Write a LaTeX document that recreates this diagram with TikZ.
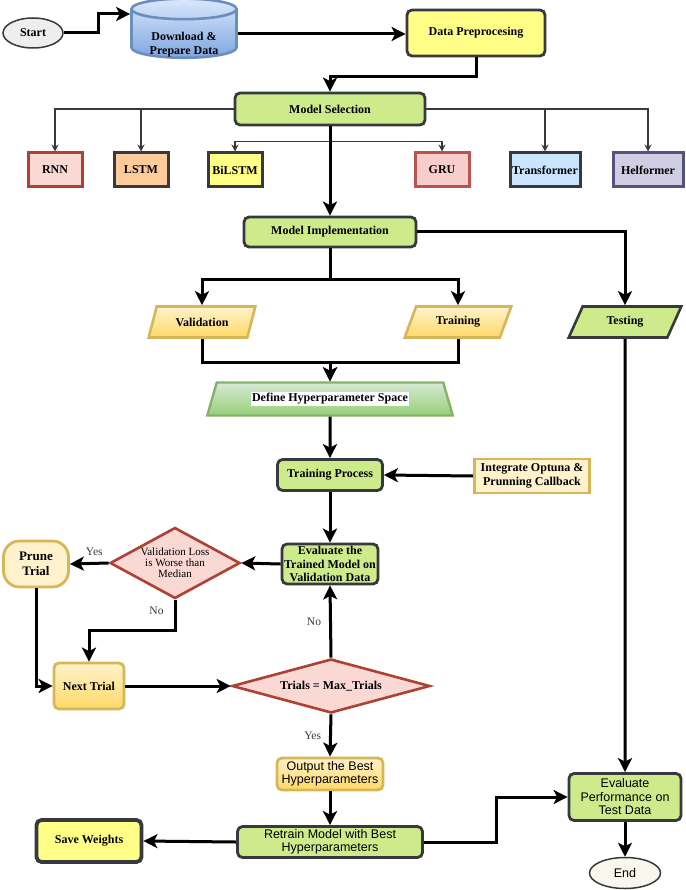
\documentclass[tikz,border=0pt]{standalone}
\usepackage{fontspec}
\setmainfont{Liberation Serif}
\setsansfont{Liberation Sans}
\usetikzlibrary{arrows.meta,shapes.geometric}
\definecolor{dark}{HTML}{36393D}
\definecolor{lgreen}{HTML}{CDEB8B}
\definecolor{yell}{HTML}{FFFF88}
\definecolor{rnnf}{HTML}{FAD9D5}
\definecolor{redb}{HTML}{AE4132}
\definecolor{orng}{HTML}{FFCC99}
\definecolor{gruf}{HTML}{F8CECC}
\definecolor{grub}{HTML}{B85450}
\definecolor{bluef}{HTML}{CCE5FF}
\definecolor{purf}{HTML}{D0CEE2}
\definecolor{purb}{HTML}{56517E}
\definecolor{gold1}{HTML}{FFF2CC}
\definecolor{gold2}{HTML}{FFD966}
\definecolor{goldb}{HTML}{D6B656}
\definecolor{green1}{HTML}{D5E8D4}
\definecolor{green2}{HTML}{97D077}
\definecolor{greenb}{HTML}{82B366}
\definecolor{blue1}{HTML}{DAE8FC}
\definecolor{blue2}{HTML}{7EA6E0}
\definecolor{blueb}{HTML}{6C8EBF}
\definecolor{startf}{HTML}{EEEEEE}
\definecolor{endf}{HTML}{F9F7ED}
\setlength{\fboxsep}{1pt}
\begin{document}
\begin{tikzpicture}[x=1pt,y=-1pt,
		every node/.style={align=center,inner sep=0pt,font=\fontsize{12}{13.5}\selectfont\bfseries},
		box/.style={draw=dark,line width=2.8pt,rounded corners=5pt,fill=lgreen},
		model/.style={draw,line width=3pt,minimum height=34pt},
		io/.style={trapezium,trapezium left angle=61,trapezium right angle=119,trapezium stretches=true,minimum height=31pt,line width=2.6pt},
		gold/.style={draw=goldb,top color=gold1,bottom color=gold2},
		dec/.style={diamond,draw=redb,fill=rnnf,line width=2.6pt},
		sans/.style={font=\sffamily\fontsize{12.5}{13.5}\selectfont},
		ans/.style={font=\fontsize{11.5}{13}\selectfont,text=dark},
		arr/.style={line width=3pt,-{Stealth[length=14pt,width=14pt,inset=3.5pt]}},
		branch/.style={line width=1.2pt,draw=dark,-{Stealth[length=7pt,width=7pt]}}]
	\useasboundingbox (0,0) rectangle (685,890);
	\node[ellipse,draw=dark,fill=startf,line width=1.5pt,minimum width=60pt,minimum height=30pt] (start) at (33,33) {Start};
	\node[cylinder,shape border rotate=90,aspect=0.3,draw=blueb,line width=2.6pt,top color=blue1,bottom color=blue2,minimum width=105pt,minimum height=58pt] (dl) at (184,34) {\raisebox{-11pt}[\height][\depth]{\begin{tabular}{@{}c@{}}Download \&\\Prepare Data\end{tabular}}};
	\node[box,fill=yell,minimum width=138pt,minimum height=46pt] (dp) at (476,33) {Data Preprocesing};
	\node[box,minimum width=190pt,minimum height=32pt] (ms) at (330,109) {Model Selection};
	\foreach \n/\t/\x/\w/\f/\d in {rnn/RNN/55/54pt/rnnf/redb, lstm/LSTM/141/54pt/orng/dark, bilstm/BiLSTM/235/54pt/yell/dark, gru/GRU/442/54pt/gruf/grub, trans/Transformer/545/70pt/bluef/dark, helf/Helformer/648/70pt/purf/purb}{
			\node[model,fill=\f,draw=\d,minimum width=\w] (\n) at (\x,170) {\t};
		}
	\draw[branch] (ms.west) -| (rnn.north);
	\draw[branch] (ms.west) -| (lstm.north);
	\draw[branch] (ms.east) -| (trans.north);
	\draw[branch] (ms.east) -| (helf.north);
	\draw[branch] (ms.south) -- ++(0,15) -| (bilstm.north);
	\draw[branch] (ms.south) -- ++(0,15) -| (gru.north);
	\node[box,minimum width=172pt,minimum height=30pt] (mi) at (330,232) {Model Implementation};
	\node[io,gold,minimum width=107pt] (val) at (202,322) {Validation};
	\node[io,gold,minimum width=107pt] (train) at (458,322) {Training};
	\node[io,draw=dark,fill=lgreen,minimum width=113pt] (test) at (625,322) {Testing};
	\node[trapezium,trapezium left angle=63,trapezium right angle=63,trapezium stretches=true,minimum width=246pt,minimum height=33pt,draw=greenb,line width=2.4pt,top color=green1,bottom color=green2] (def) at (330,399) {\colorbox{white}{Define Hyperparameter Space}};
	\node[box,minimum width=105pt,minimum height=31pt] (tp) at (330,475) {Training Process};
	\node[draw=goldb,fill=gold1,line width=2.8pt,minimum width=115pt,minimum height=34pt] (opt) at (532,476) {Integrate Optuna \&\\Prunning Callback};
	\node[box,minimum width=96pt,minimum height=40pt] (ev) at (330,564) {Evaluate the\\Trained Model on\\Validation Data};
	\node[dec,aspect=1.83,minimum width=130pt,minimum height=71pt,font=\fontsize{11}{11}\selectfont] (vl) at (175,563) {Validation Loss\\is Worse than\\Median};
	\node[box,draw=goldb,fill=gold1,rounded corners=16pt,minimum width=65pt,minimum height=46pt,font=\fontsize{13}{14.5}\selectfont\bfseries] (prune) at (36,564) {Prune\\Trial};
	\node[box,gold,minimum width=70pt,minimum height=46pt] (next) at (89,686) {Next Trial};
	\node[dec,aspect=3.67,minimum width=198pt,minimum height=54pt] (tr) at (331,686) {Trials = Max\_Trials};
	\node[box,gold,sans,minimum width=106pt,minimum height=32pt] (out) at (330,774) {Output the Best\\Hyperparameters};
	\node[box,sans,minimum width=185pt,minimum height=31pt] (re) at (330,842) {Retrain Model with Best\\Hyperparameters};
	\node[box,fill=yell,line width=3.8pt,minimum width=105pt,minimum height=42pt] (sw) at (89,841) {Save Weights};
	\node[box,sans,minimum width=112pt,minimum height=47pt] (ev2) at (625,797) {Evaluate\\Performance on\\Test Data};
	\node[ellipse,draw=dark,fill=endf,line width=1.5pt,sans,minimum width=71pt,minimum height=31pt] (stop) at (625,873) {End};
	\draw[arr] (start.east) -- ++(35,0) |- (dl.west |- 0,14);
	\draw[arr] (dl.east) -- (dl.east -| dp.west);
	\draw[arr] (dp.south) -- ++(0,19) -| (ms.north);
	\draw[arr] (ms.south) -- (mi.north);
	\draw[arr] (mi.south) -- ++(0,31) -| (val.north);
	\draw[arr] (mi.south) -- ++(0,31) -| (train.north);
	\draw[arr] (mi.east) -| (test.north);
	\draw[arr] (val.south) -- ++(0,24) -| (def.north);
	\draw[arr] (train.south) -- ++(0,24) -| (def.north);
	\draw[arr] (def.south) -- (tp.north);
	\draw[arr] (opt.west) -- (tp.east);
	\draw[arr] (tp.south) -- (ev.north);
	\draw[arr] (ev.west) -- (vl.east);
	\draw[arr] (vl.west) -- node[ans,above=6pt,xshift=5pt] {Yes} (prune.east);
	\draw[arr] (prune.south) |- (next.west);
	\draw[arr] (vl.south) -- node[ans,left=10pt,pos=0.35] {No} ++(0,31) -| (next.north);
	\draw[arr] (next.east) -- (tr.west);
	\draw[arr] (tr.north) -- node[ans,left=8pt] {No} (ev.south);
	\draw[arr] (tr.south) -- node[ans,left=8pt] {Yes} (out.north);
	\draw[arr] (out.south) -- (re.north);
	\draw[arr] (re.west) -- (sw.east);
	\draw[arr] (re.east) -- ++(73,0) |- (ev2.west);
	\draw[arr] (test.south) -- (ev2.north);
	\draw[arr] (ev2.south) -- (stop.north);
\end{tikzpicture}
\end{document}
